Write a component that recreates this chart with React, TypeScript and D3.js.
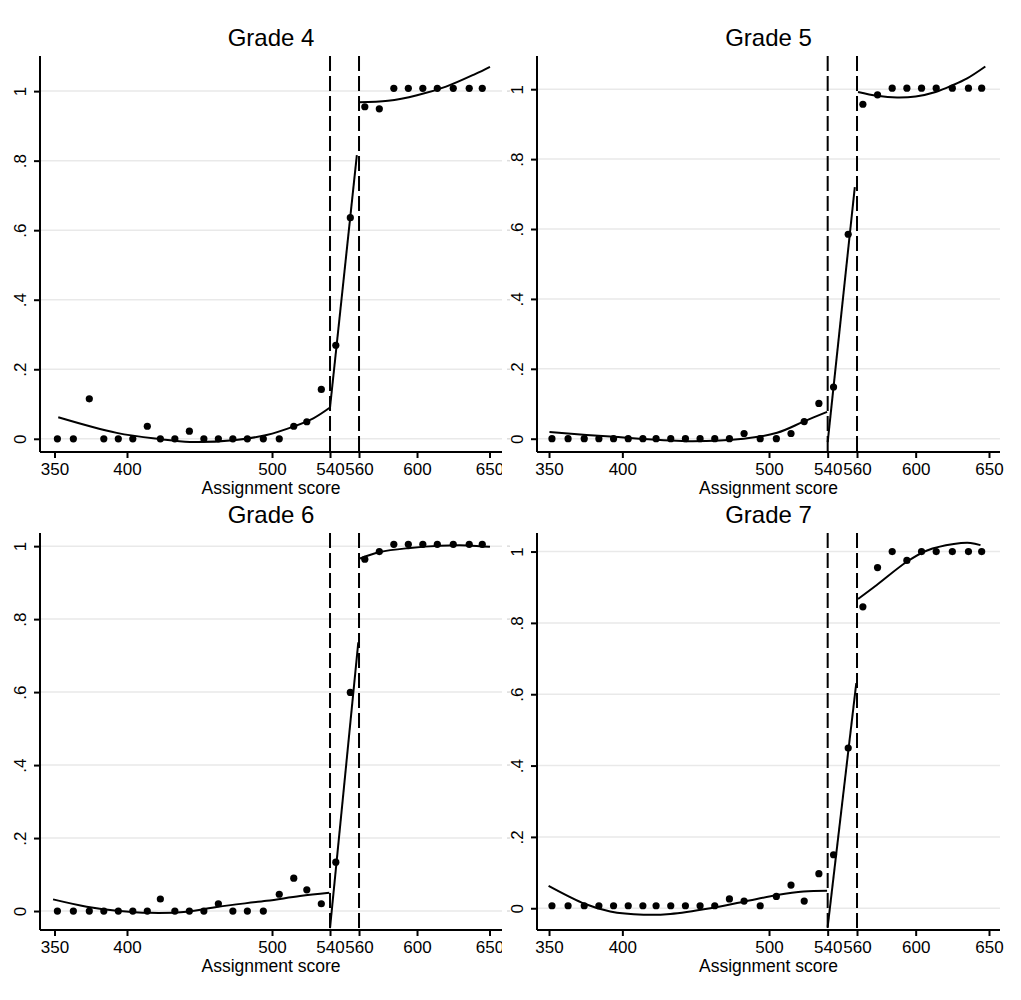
import React, { useEffect, useRef } from "react";
import * as d3 from "d3";

// bin midpoints (assignment score) shared by all four grades
const binScores = [352, 363, 374, 384, 394, 404, 414, 423, 433, 443, 453, 463, 473, 483, 494,
  505, 515, 524, 534, 544, 554, 564, 574, 584, 594, 604, 614, 625, 636, 645];

// share of students per bin
const grade4Share = [0, 0, 0.115, 0, 0, 0, 0.036, 0, 0, 0.022, 0, 0, 0, 0, 0,
  0, 0.036, 0.049, 0.142, 0.269, 0.636, 0.955, 0.949, 1.008, 1.008, 1.008, 1.008, 1.008, 1.008, 1.008];
const grade5Share = [0, 0, 0, 0, 0, 0, 0, 0, 0, 0, 0, 0, 0, 0.015, 0,
  0, 0.015, 0.049, 0.101, 0.148, 0.585, 0.957, 0.984, 1.003, 1.003, 1.003, 1.003, 1.003, 1.003, 1.003];
const grade6Share = [0, 0, 0, 0, 0, 0, 0, 0.033, 0, 0, 0, 0.02, 0, 0, 0,
  0.046, 0.09, 0.058, 0.02, 0.134, 0.599, 0.964, 0.985, 1.005, 1.005, 1.005, 1.005, 1.005, 1.005, 1.005];
const grade7Share = [0.007, 0.007, 0.007, 0.007, 0.007, 0.007, 0.007, 0.007, 0.007, 0.007, 0.007, 0.007, 0.026, 0.02, 0.007,
  0.033, 0.065, 0.02, 0.097, 0.15, 0.449, 0.845, 0.955, 1.0, 0.975, 1.0, 1.0, 1.0, 1.0, 1.0];

// fitted lines: [score, share] points (left / middle / right of cutoffs)
const grade4FitLeft = [[352.6, 0.062], [392.9, 0.017], [422.8, -0.001], [443.4, -0.009], [473.3, -0.004], [496.3, 0.011], [514.7, 0.035], [528.5, 0.059], [540, 0.09]];
const grade4FitMid = [[540, 0.09], [558.5, 0.816]];
const grade4FitRight = [[560, 0.968], [580, 0.972], [600, 0.988], [620, 1.013], [640, 1.049], [650.3, 1.07]];

const grade5FitLeft = [[350.3, 0.019], [391.7, 0.006], [444, -0.007], [482.7, 0], [505.5, 0.017], [523.6, 0.049], [539.6, 0.077]];
const grade5FitMid = [[540, -0.01], [558.5, 0.72]];
const grade5FitRight = [[560.7, 0.992], [573.7, 0.981], [587.3, 0.976], [600, 0.979], [613.6, 0.992], [625, 1.011], [635.1, 1.031], [647.5, 1.065]];

const grade6FitLeft = [[349, 0.032], [372.2, 0.012], [392.9, 0.001], [415.9, -0.005], [441.2, -0.002], [462.8, 0.012], [496.3, 0.028], [519.3, 0.041], [539.5, 0.05]];
const grade6FitMid = [[540, -0.047], [559.5, 0.736]];
const grade6FitRight = [[560.7, 0.966], [574.5, 0.984], [595.2, 0.995], [615.9, 1.001], [634.3, 1.002], [650.3, 0.998]];

const grade7FitLeft = [[349.7, 0.063], [374.7, 0.012], [391.7, -0.009], [414.5, -0.018], [432.7, -0.016], [460, 0], [483.4, 0.019], [505.5, 0.037], [523.6, 0.047], [539.6, 0.049]];
const grade7FitMid = [[540, -0.052], [559.5, 0.631]];
const grade7FitRight = [[560.7, 0.867], [573.7, 0.907], [594.2, 0.972], [607.8, 1.003], [626, 1.021], [637.4, 1.024], [644.2, 1.018]];

const gradeTitles = ["Grade 4", "Grade 5", "Grade 6", "Grade 7"];
const cutoffs = [540, 560];
const xTickValues = [350, 400, 500, 540, 560, 600, 650];
const yTickValues = [0, 0.2, 0.4, 0.6, 0.8, 1];
const yTickLabels = ["0", ".2", ".4", ".6", ".8", "1"];
const xAxisTitle = "Assignment score";

const FONT = "'Liberation Sans', Arial, Helvetica, sans-serif";

export default function App() {
  const svgRef = useRef(null);

  useEffect(() => {
    const svg = d3.select(svgRef.current);
    svg.selectAll("*").remove();

    const shares = [grade4Share, grade5Share, grade6Share, grade7Share];
    const fits = [
      [grade4FitLeft, grade4FitMid, grade4FitRight],
      [grade5FitLeft, grade5FitMid, grade5FitRight],
      [grade6FitLeft, grade6FitMid, grade6FitRight],
      [grade7FitLeft, grade7FitMid, grade7FitRight],
    ];

    // panel boxes (pixels) + axis ranges
    const layout = [
      { left: 40, right: 502, xMin: 340, xMax: 658.6, top: 56, bottom: 452, yMin: -0.038, yMax: 1.101, titleY: 46, clip: true },
      { left: 537, right: 1000, xMin: 341.8, xMax: 657.5, top: 56, bottom: 452, yMin: -0.038, yMax: 1.095, titleY: 46, clip: false },
      { left: 40, right: 502, xMin: 340, xMax: 658.6, top: 533, bottom: 930, yMin: -0.052, yMax: 1.036, titleY: 523, clip: true },
      { left: 537, right: 1000, xMin: 341.8, xMax: 657.5, top: 533, bottom: 930, yMin: -0.061, yMax: 1.052, titleY: 523, clip: false },
    ];

    svg.append("rect").attr("width", 1021).attr("height", 1000).attr("fill", "#fff");
    svg.append("defs").append("clipPath").attr("id", "clipLeft")
      .append("rect").attr("x", 0).attr("y", 0).attr("width", 502).attr("height", 1000);

    layout.forEach((L, p) => {
      const x = d3.scaleLinear().domain([L.xMin, L.xMax]).range([L.left, L.right]);
      const y = d3.scaleLinear().domain([L.yMin, L.yMax]).range([L.bottom, L.top]);

      // little grey stubs at the right edge of the left panels
      if (L.clip) {
        svg.append("g").selectAll("line").data(yTickValues).join("line")
          .attr("x1", 507).attr("x2", 510)
          .attr("y1", d => y(d)).attr("y2", d => y(d))
          .attr("stroke", "#dcdcdc").attr("stroke-width", 1.5);
      }

      const g = svg.append("g");
      if (L.clip) g.attr("clip-path", "url(#clipLeft)");

      // gridlines
      g.append("g").selectAll("line").data(yTickValues).join("line")
        .attr("x1", L.left).attr("x2", L.right)
        .attr("y1", d => y(d)).attr("y2", d => y(d))
        .attr("stroke", "#e9e9e9").attr("stroke-width", 1.5);

      // cutoff lines
      g.append("g").selectAll("line").data(cutoffs).join("line")
        .attr("x1", d => x(d)).attr("x2", d => x(d))
        .attr("y1", L.top).attr("y2", L.bottom)
        .attr("stroke", "#000").attr("stroke-width", 2)
        .attr("stroke-dasharray", "15,5");

      // fitted lines
      const line = d3.line().x(d => x(d[0])).y(d => y(d[1])).curve(d3.curveCatmullRom.alpha(0.5));
      g.append("g").selectAll("path").data(fits[p]).join("path")
        .attr("d", d => line(d))
        .attr("fill", "none").attr("stroke", "#000").attr("stroke-width", 2);

      // binned means
      g.append("g").selectAll("circle").data(shares[p]).join("circle")
        .attr("cx", (d, i) => x(binScores[i])).attr("cy", d => y(d))
        .attr("r", 3.6).attr("fill", "#000");

      // x axis
      const xAxis = g.append("g").attr("transform", `translate(0,${L.bottom})`)
        .call(d3.axisBottom(x).tickValues(xTickValues).tickFormat(d3.format("d")).tickSizeOuter(0).tickSize(6).tickPadding(5));
      xAxis.select(".domain").attr("stroke-width", 2).attr("d", `M${L.left},0H${L.right}`);
      xAxis.selectAll(".tick line").attr("stroke-width", 2);
      xAxis.selectAll("text").attr("font-family", FONT).attr("font-size", 17).attr("fill", "#000");

      // y axis
      const yAxis = g.append("g").attr("transform", `translate(${L.left},0)`)
        .call(d3.axisLeft(y).tickValues(yTickValues).tickFormat((d, i) => yTickLabels[i]).tickSizeOuter(0).tickSize(6));
      yAxis.select(".domain").attr("stroke-width", 2).attr("d", `M0,${L.top}V${L.bottom}`);
      yAxis.selectAll(".tick line").attr("stroke-width", 2);
      yAxis.selectAll("text")
        .attr("transform", "rotate(-90)")
        .attr("x", 0).attr("y", -14).attr("dy", 0)
        .attr("text-anchor", "middle")
        .attr("font-family", FONT).attr("font-size", 17).attr("fill", "#000");

      // titles
      g.append("text").attr("x", (L.left + L.right) / 2).attr("y", L.titleY)
        .attr("text-anchor", "middle").attr("font-family", FONT).attr("font-size", 24)
        .text(gradeTitles[p]);
      g.append("text").attr("x", (L.left + L.right) / 2).attr("y", L.bottom + 42)
        .attr("text-anchor", "middle").attr("font-family", FONT).attr("font-size", 17.5)
        .text(xAxisTitle);
    });
  }, []);

  return (
    <svg ref={svgRef} width={1021} height={1000}
      style={{ position: "absolute", left: 0, top: 0, display: "block" }} />
  );
}
